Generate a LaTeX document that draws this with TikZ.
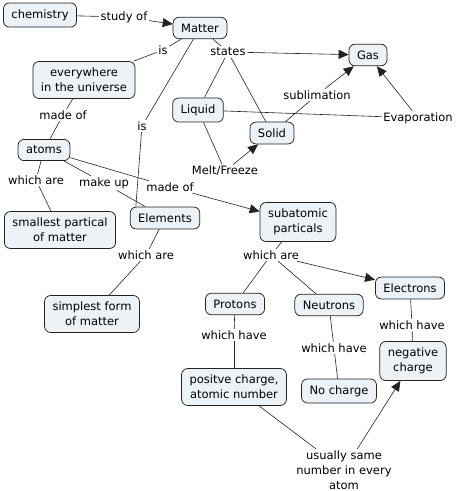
\documentclass[tikz,border=0pt]{standalone}
\usepackage{fontspec}
\setmainfont{DejaVu Sans}
\usetikzlibrary{arrows.meta}
\definecolor{boxfill}{HTML}{ECF2F5}
\definecolor{edge}{HTML}{222222}
\begin{document}
\begin{tikzpicture}[x=1pt,y=-1pt,
 concept/.style={draw=edge, fill=boxfill, rounded corners=6pt, align=center, inner xsep=8pt, inner ysep=6.5pt, font=\fontsize{11.5}{15}\selectfont, line width=0.75pt},
 lbl/.style={inner sep=1.5pt, align=center, font=\fontsize{11.5}{15}\selectfont},
 con/.style={draw=edge, line width=0.6pt},
 arr/.style={con, -{Triangle[length=10pt,width=9pt]}}]
\useasboundingbox (0,0) rectangle (457,491);
\node[concept] (chem) at (40,15) {chemistry};
\node[concept] (matter) at (200,28) {Matter};
\node[concept] (every) at (84,80) {everywhere\\in the universe};
\node[concept] (gas) at (368,55) {Gas};
\node[concept] (liquid) at (198,110) {Liquid};
\node[concept] (solid) at (272,133) {Solid};
\node[concept] (atoms) at (44,150) {atoms};
\node[concept] (elements) at (165,218) {Elements};
\node[concept] (smallest) at (60,230) {smallest partical\\of matter};
\node[concept] (subatomic) at (298,222) {subatomic\\particals};
\node[concept] (simplest) at (92,314) {simplest form\\of matter};
\node[concept] (protons) at (235,304) {Protons};
\node[concept] (neutrons) at (329,305) {Neutrons};
\node[concept] (electrons) at (410,288) {Electrons};
\node[concept] (positive) at (234,387) {positve charge,\\atomic number};
\node[concept] (nocharge) at (339,391) {No charge};
\node[concept] (negative) at (413,361) {negative\\charge};

\node[lbl] (l1) at (124,17) {study of};
\node[lbl] (l2) at (163,50) {is};
\node[lbl] (l3) at (228,52) {states};
\node[lbl] (l4) at (142,126) {is};
\node[lbl] (l5) at (63,115) {made of};
\node[lbl] (l6) at (317,95) {sublimation};
\node[lbl] (l7) at (418,118) {Evaporation};
\node[lbl] (l8) at (225,171) {Melt/Freeze};
\node[lbl] (l9) at (36,180) {which are};
\node[lbl] (l10) at (104,183) {make up};
\node[lbl] (l11) at (170,187) {made of};
\node[lbl] (l12) at (146,255) {which are};
\node[lbl] (l13) at (271,255) {which are};
\node[lbl] (l14) at (234,335) {which have};
\node[lbl] (l15) at (334,348) {which have};
\node[lbl] (l16) at (412,325) {which have};
\node[lbl] (l17) at (344,470) {usually same\\number in every\\atom};

\draw[con] (chem) -- (l1);
\draw[arr] (l1) -- (matter);
\draw[con] (matter) -- (l2);
\draw[con] (l2) -- (every);
\draw[con] (matter) -- (l4);
\draw[con] (l4) -- ([xshift=6pt]elements.north west);
\draw[con] (matter) -- (l3);
\draw[arr] (l3) -- (gas);
\draw[con] (l3) -- (liquid);
\draw[con] (l3) -- (solid);
\draw[con] (liquid) -- (l7);
\draw[arr] (l7) -- (gas);
\draw[con] (solid) -- (l6);
\draw[arr] (l6) -- (gas);
\draw[con] (liquid) -- (l8);
\draw[arr] (l8) -- (solid);
\draw[con] (every) -- (l5);
\draw[con] (l5) -- (atoms);
\draw[con] (atoms) -- (l9);
\draw[con] (l9) -- (smallest);
\draw[con] (atoms) -- (l10);
\draw[con] (l10) -- (elements);
\draw[con] (atoms) -- (l11);
\draw[arr] (l11) -- (subatomic);
\draw[con] (elements) -- (l12);
\draw[con] (l12) -- (simplest);
\draw[con] (subatomic) -- (l13);
\draw[con] (l13) -- (protons);
\draw[con] (l13) -- (neutrons);
\draw[arr] (l13) -- (electrons);
\draw[con] (protons) -- (l14);
\draw[con] (l14) -- (positive);
\draw[con] (neutrons) -- (l15);
\draw[con] (l15) -- (nocharge);
\draw[con] (electrons) -- (l16);
\draw[con] (l16) -- (negative);
\draw[con] (positive) -- (l17);
\draw[arr] (l17) -- (negative);
\end{tikzpicture}
\end{document}
